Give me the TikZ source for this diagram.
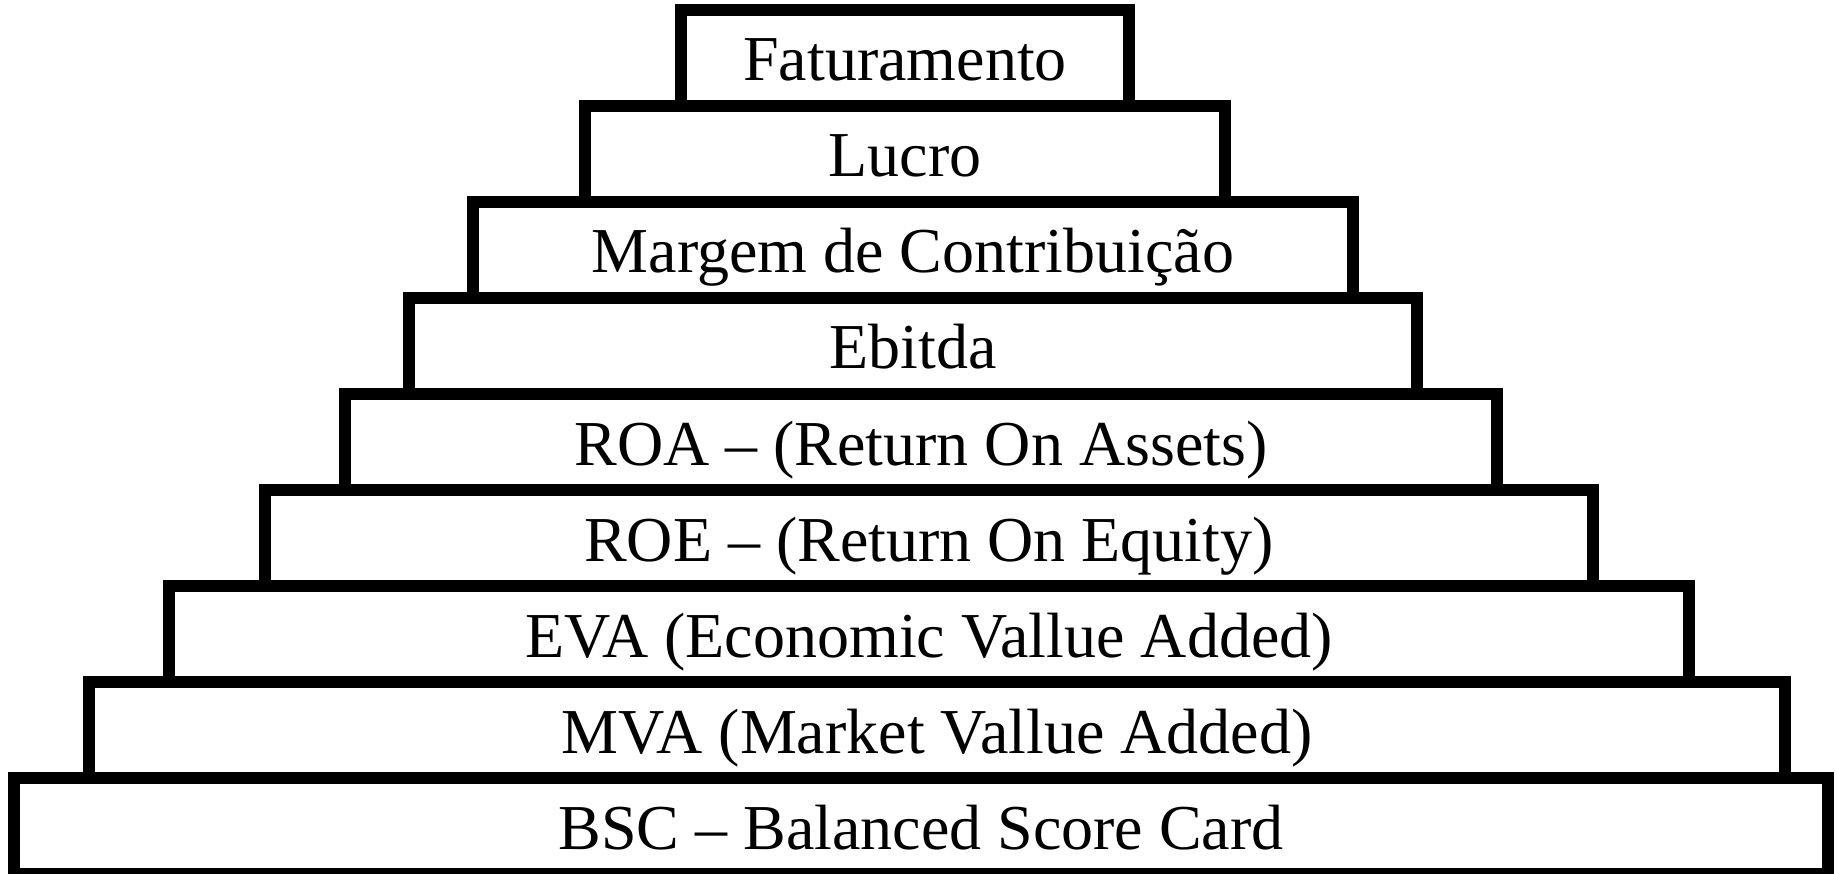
\documentclass[tikz,border=0pt]{standalone}
\usepackage{fontspec}
\setmainfont{Liberation Serif}
\begin{document}
\begin{tikzpicture}[x=1pt,y=-1pt,
  tier/.style={draw=black, fill=white, line width=12pt, rectangle, inner sep=0pt, outer sep=0pt,
    minimum height=96pt, text height=46pt, text depth=0pt,
    font=\fontsize{64}{70}\selectfont}]
\useasboundingbox (0,0) rectangle (1837,874);
\node[tier, minimum width=1814pt] (bsc) at (921,826) {BSC – Balanced Score Card};
\node[tier, minimum width=1696pt] (mva) at (937,730) {MVA (Market Vallue Added)};
\node[tier, minimum width=1520pt] (eva) at (929,634) {EVA (Economic Vallue Added)};
\node[tier, minimum width=1328pt] (roe) at (929,538) {ROE – (Return On Equity)};
\node[tier, minimum width=1152pt] (roa) at (921,442) {ROA – (Return On Assets)};
\node[tier, minimum width=1008pt] (ebitda) at (913,346) {Ebitda};
\node[tier, minimum width=880pt] (margem) at (913,250) {Margem de Contribuição};
\node[tier, minimum width=640pt] (lucro) at (905,154) {Lucro};
\node[tier, minimum width=448pt] (fat) at (905,58) {Faturamento};
\end{tikzpicture}
\end{document}
